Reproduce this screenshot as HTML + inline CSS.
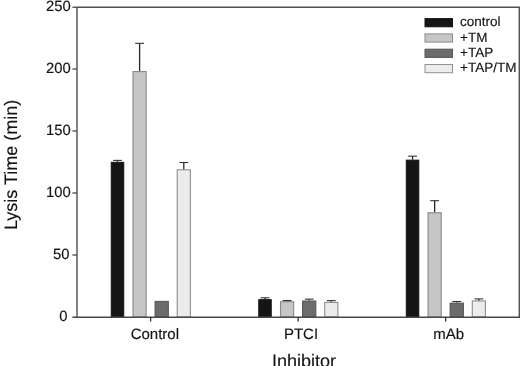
<!DOCTYPE html>
<html><head><meta charset="utf-8"><title>Lysis Time</title>
<style>
html,body{margin:0;padding:0;background:#fff;}
body{width:520px;height:366px;overflow:hidden;}
svg{display:block;}
text{font-family:"Liberation Sans",sans-serif;fill:#141414;stroke:#141414;stroke-width:0.15px;text-rendering:geometricPrecision;}
</style></head><body>
<svg width="520" height="366" viewBox="0 0 520 366">
<rect x="0" y="0" width="520" height="366" fill="#fff"/>
<rect x="111.25" y="162.31" width="12.50" height="154.69" fill="#151515" stroke="#151515" stroke-width="1.0"/>
<path d="M117.50 161.81V160.39" stroke="#262626" stroke-width="1.3" fill="none"/>
<path d="M113.10 160.39H121.90" stroke="#333" stroke-width="1.1" fill="none"/>
<rect x="133.02" y="71.56" width="13.15" height="245.44" fill="#c6c6c6" stroke="#8c8c8c" stroke-width="1.15"/>
<path d="M139.60 70.98V43.33" stroke="#262626" stroke-width="1.3" fill="none"/>
<path d="M135.20 43.33H144.00" stroke="#333" stroke-width="1.1" fill="none"/>
<rect x="155.05" y="301.38" width="13.30" height="15.62" fill="#6c6c6c" stroke="#555555" stroke-width="1.0"/>
<rect x="177.22" y="169.77" width="13.15" height="147.23" fill="#ececec" stroke="#929292" stroke-width="1.15"/>
<path d="M183.80 169.19V162.50" stroke="#262626" stroke-width="1.3" fill="none"/>
<path d="M179.40 162.50H188.20" stroke="#333" stroke-width="1.1" fill="none"/>
<rect x="258.75" y="299.64" width="12.50" height="17.36" fill="#151515" stroke="#151515" stroke-width="1.0"/>
<path d="M265.00 299.14V297.78" stroke="#262626" stroke-width="1.3" fill="none"/>
<path d="M260.60 297.78H269.40" stroke="#333" stroke-width="1.1" fill="none"/>
<rect x="280.52" y="301.70" width="13.15" height="15.30" fill="#c6c6c6" stroke="#8c8c8c" stroke-width="1.15"/>
<path d="M287.10 301.13V300.51" stroke="#262626" stroke-width="1.3" fill="none"/>
<path d="M282.70 300.51H291.50" stroke="#333" stroke-width="1.1" fill="none"/>
<rect x="302.55" y="301.01" width="13.30" height="15.99" fill="#6c6c6c" stroke="#555555" stroke-width="1.0"/>
<path d="M309.20 300.51V299.14" stroke="#262626" stroke-width="1.3" fill="none"/>
<path d="M304.80 299.14H313.60" stroke="#333" stroke-width="1.1" fill="none"/>
<rect x="324.72" y="302.45" width="13.15" height="14.55" fill="#ececec" stroke="#929292" stroke-width="1.15"/>
<path d="M331.30 301.87V300.63" stroke="#262626" stroke-width="1.3" fill="none"/>
<path d="M326.90 300.63H335.70" stroke="#333" stroke-width="1.1" fill="none"/>
<rect x="406.30" y="160.14" width="12.50" height="156.86" fill="#151515" stroke="#151515" stroke-width="1.0"/>
<path d="M412.55 159.64V156.17" stroke="#262626" stroke-width="1.3" fill="none"/>
<path d="M408.15 156.17H416.95" stroke="#333" stroke-width="1.1" fill="none"/>
<rect x="428.07" y="212.79" width="13.15" height="104.20" fill="#c6c6c6" stroke="#8c8c8c" stroke-width="1.15"/>
<path d="M434.65 212.22V200.69" stroke="#262626" stroke-width="1.3" fill="none"/>
<path d="M430.25 200.69H439.05" stroke="#333" stroke-width="1.1" fill="none"/>
<rect x="450.10" y="303.12" width="13.30" height="13.88" fill="#6c6c6c" stroke="#555555" stroke-width="1.0"/>
<path d="M456.75 302.62V301.50" stroke="#262626" stroke-width="1.3" fill="none"/>
<path d="M452.35 301.50H461.15" stroke="#333" stroke-width="1.1" fill="none"/>
<rect x="472.28" y="300.96" width="13.15" height="16.04" fill="#ececec" stroke="#929292" stroke-width="1.15"/>
<path d="M478.85 300.38V298.90" stroke="#262626" stroke-width="1.3" fill="none"/>
<path d="M474.45 298.90H483.25" stroke="#333" stroke-width="1.1" fill="none"/>
<path d="M77 317.2V7.25H519.3V317.2" fill="none" stroke="#505050" stroke-width="1.4"/>
<path d="M72.4 317.2H520" fill="none" stroke="#484848" stroke-width="1.4"/>
<text x="67.6" y="321.30" font-size="14.8" text-anchor="end">0</text>
<path d="M72.4 255.00H77" stroke="#505050" stroke-width="1.35"/>
<text x="69.5" y="258.80" font-size="14.8" text-anchor="end">50</text>
<path d="M72.4 193.00H77" stroke="#505050" stroke-width="1.35"/>
<text x="70.7" y="196.80" font-size="14.8" text-anchor="end">100</text>
<path d="M72.4 131.00H77" stroke="#505050" stroke-width="1.35"/>
<text x="70.7" y="134.80" font-size="14.8" text-anchor="end">150</text>
<path d="M72.4 69.00H77" stroke="#505050" stroke-width="1.35"/>
<text x="70.7" y="72.80" font-size="14.8" text-anchor="end">200</text>
<path d="M72.4 7.25H77" stroke="#505050" stroke-width="1.35"/>
<text x="70.7" y="10.80" font-size="14.8" text-anchor="end">250</text>
<path d="M150.65 317V321.5" stroke="#2a2a2a" stroke-width="1.25"/>
<text x="154.85" y="338.6" font-size="15" text-anchor="middle">Control</text>
<path d="M298.15 317V321.5" stroke="#2a2a2a" stroke-width="1.25"/>
<text x="301.0" y="338.6" font-size="15" text-anchor="middle">PTCI</text>
<path d="M445.70 317V321.5" stroke="#2a2a2a" stroke-width="1.25"/>
<text x="448.75" y="338.6" font-size="15" text-anchor="middle">mAb</text>
<text x="304" y="366.5" font-size="18.05" text-anchor="middle">Inhibitor</text>
<text transform="translate(16.5 164.95) rotate(-90)" font-size="18" text-anchor="middle">Lysis Time (min)</text>
<rect x="425" y="18.60" width="27.5" height="8.2" fill="#151515" stroke="#151515" stroke-width="1"/>
<text x="460" y="26.35" font-size="13.5">control</text>
<rect x="425" y="33.90" width="27.5" height="8.2" fill="#c6c6c6" stroke="#8c8c8c" stroke-width="1"/>
<text x="460" y="41.65" font-size="13.5">+TM</text>
<rect x="425" y="49.20" width="27.5" height="8.2" fill="#6c6c6c" stroke="#555555" stroke-width="1"/>
<text x="460" y="56.95" font-size="13.5">+TAP</text>
<rect x="425" y="64.50" width="27.5" height="8.2" fill="#ececec" stroke="#929292" stroke-width="1"/>
<text x="460" y="72.25" font-size="13.5">+TAP/TM</text>
</svg></body></html>
